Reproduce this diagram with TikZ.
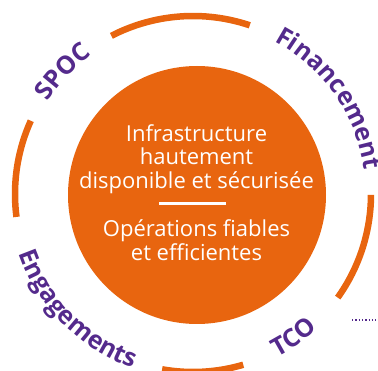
\documentclass[tikz,border=0pt]{standalone}
\usepackage{fontspec}
\newfontfamily\osans{Open Sans}
\usetikzlibrary{decorations.text}
\definecolor{ringorange}{RGB}{232,101,15}
\definecolor{labelpurple}{RGB}{84,42,140}
\newcommand\lblfont{\fontsize{25}{25}\selectfont\osans\bfseries}
\begin{document}
\begin{tikzpicture}[x=1pt,y=1pt,
  ringarc/.style={draw=ringorange, line width=6.5pt},
  innertext/.style={text=white, font=\fontsize{22}{24}\selectfont\osans, anchor=base, inner sep=0pt},
  arclabel/.style={decorate, decoration={text along path, text align=center, text color=labelpurple, text={|\lblfont|#1}}}
]
\useasboundingbox (0,0) rectangle (378,370);
\coordinate (rc) at (193,176);
\node[circle, fill=ringorange, minimum size=258pt, inner sep=0pt] (core) at (197,175) {};
% ring arcs
\draw[ringarc] (rc) ++(71.4:178) arc[start angle=71.4, end angle=117.3, radius=178];
\draw[ringarc] (rc) ++(155.7:178) arc[start angle=155.7, end angle=187.4, radius=178];
\draw[ringarc] (rc) ++(260:178) arc[start angle=260, end angle=286.4, radius=178];
\draw[ringarc] (rc) ++(-35.6:178) arc[start angle=-35.6, end angle=-0.3, radius=178];
% labels
\path[arclabel=SPOC] (rc) ++(176.8:172) arc[start angle=176.8, end angle=96.8, radius=172];
\path[arclabel=Financement] (rc) ++(95:173) arc[start angle=95, end angle=-25, radius=173];
\path[arclabel=Engagements] (rc) ++(165:184) arc[start angle=165, end angle=285, radius=184];
\path[arclabel=TCO] (rc) ++(265:184) arc[start angle=265, end angle=345, radius=184];
% inner text
\node[innertext] (l1) at (196.5,228.3) {Infrastructure};
\node[innertext] (l2) at (196.5,205) {hautement};
\node[innertext] (l3) at (196.5,181) {disponible et sécurisée};
\coordinate (rl) at (159,166);
\coordinate (rr) at (226,166);
\draw[white, line width=3pt] (rl) -- (rr);
\node[innertext] (l4) at (196.5,133.3) {Opérations fiables};
\node[innertext] (l5) at (196.5,109) {et efficientes};
% dotted stub
\coordinate (dotA) at (352,50);
\coordinate (dotB) at (378,50);
\draw[labelpurple, line width=1.3pt, dash pattern=on 1.3pt off 2pt] (dotA) -- (dotB);
\end{tikzpicture}
\end{document}
